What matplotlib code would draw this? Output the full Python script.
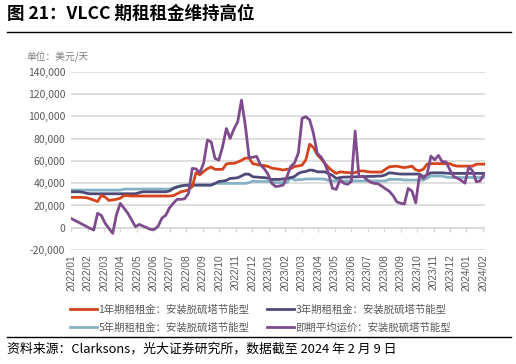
import numpy as np
import matplotlib
matplotlib.use("Agg")
import matplotlib.pyplot as plt
from matplotlib.ticker import FuncFormatter

plt.rcParams['font.family'] = ['Noto Sans CJK SC', 'DejaVu Sans']
plt.rcParams['axes.unicode_minus'] = False

# month labels on the x axis
months = ['2022/01', '2022/02', '2022/03', '2022/04', '2022/05', '2022/06',
          '2022/07', '2022/08', '2022/09', '2022/10', '2022/11', '2022/12',
          '2023/01', '2023/02', '2023/03', '2023/04', '2023/05', '2023/06',
          '2023/07', '2023/08', '2023/09', '2023/10', '2023/11', '2023/12',
          '2024/01', '2024/02']

# weekly values, 2022-01-07 .. 2024-02-09 (USD/day)
tc_1y = [27300, 27300, 27300, 27200, 27000, 26000, 24800, 23500, 29000, 27500,
         24500, 25000, 25600, 26500, 29000, 28800, 28500, 28500, 28500, 28500,
         28500, 28500, 28500, 28500, 28500, 28500, 28500, 28800, 30500, 32300,
         33000, 34000, 37000, 49500, 47500, 50500, 53000, 54500, 52400, 52400,
         52400, 57200, 57800, 57800, 59000, 60500, 62500, 62500, 57500, 56800,
         56200, 55800, 55000, 53500, 53000, 52500, 51800, 52500, 53000, 55000,
         55500, 56200, 61000, 75000, 72000, 65500, 62000, 57800, 54000, 51000,
         48800, 50200, 49800, 49500, 49300, 49500, 51000, 51000, 50500, 50000,
         50000, 50000, 50000, 52500, 54700, 55000, 55300, 54500, 54000, 54500,
         55300, 52000, 51100, 52500, 57100, 57500, 57500, 57500, 57500, 57500,
         57500, 56000, 55300, 55300, 55300, 55300, 55300, 57000, 57100, 57100]

tc_3y = [32300, 32300, 32300, 32000, 31000, 30500, 30500, 30500, 30500, 30500,
         30500, 30500, 30500, 30500, 30500, 30500, 30500, 30500, 31500, 32300,
         32300, 32300, 32300, 32300, 32300, 32300, 33000, 35300, 36500, 37400,
         38000, 38300, 38300, 38300, 38300, 38300, 38300, 38300, 39800, 41500,
         41900, 42500, 44300, 44500, 44900, 46500, 48200, 48000, 45700, 45500,
         45100, 45000, 44500, 43400, 43400, 43400, 43800, 44300, 45000, 46000,
         48800, 50000, 50500, 51800, 51500, 50200, 50200, 50200, 48500, 47000,
         44300, 45000, 45500, 45500, 45600, 45700, 45800, 45900, 46000, 46100,
         46200, 46400, 46400, 47500, 49300, 49000, 48500, 48200, 48200, 48200,
         48200, 48200, 48200, 45700, 47500, 49300, 49300, 49300, 49300, 49000,
         48800, 48800, 48800, 48800, 48800, 48800, 48800, 48800, 48800, 48800]

tc_5y = [33800, 33800, 33800, 33800, 33800, 33800, 33800, 33800, 33800, 33800,
         33800, 33800, 33800, 33800, 34700, 34700, 34700, 34700, 34700, 34700,
         34700, 34700, 34700, 34700, 34700, 34700, 34700, 35500, 37000, 37700,
         38300, 38300, 38300, 38300, 38300, 38300, 38300, 38300, 39800, 39800,
         39800, 39800, 39800, 39800, 39800, 39800, 39800, 40500, 41900, 41500,
         41500, 41500, 41500, 41500, 40500, 40500, 40500, 40500, 45100, 42800,
         43200, 43200, 43800, 43800, 43800, 43800, 43800, 43500, 42500, 42000,
         42000, 42000, 42000, 42000, 42000, 42000, 42000, 42000, 42000, 42000,
         42000, 42000, 42000, 42000, 43400, 43400, 43400, 43400, 42800, 42800,
         42800, 42800, 42800, 42800, 44500, 46400, 46400, 46400, 46400, 45500,
         45100, 45100, 45100, 45100, 45100, 45100, 45100, 45100, 45100, 45100]

spot = [8400, 6600, 4900, 3100, 1300, -500, -2000, 13000, 11000, 4000,
        -600, -5000, 12000, 21900, 17500, 13000, 7000, 900, 3000, 1500,
        0, -1500, -1500, 1500, 8700, 11200, 18000, 22000, 25500, 25500,
        26000, 30800, 53300, 52800, 49300, 58000, 78700, 77000, 62200, 60700,
        72700, 89000, 80200, 88500, 95100, 114500, 92000, 63000, 63300, 64000,
        56500, 53000, 48000, 39800, 37000, 37500, 38300, 46000, 55000, 58200,
        67000, 98200, 99600, 96800, 84500, 66700, 63500, 57800, 48500, 35500,
        34400, 42800, 40000, 39000, 41500, 86700, 45700, 46400, 43500, 41000,
        39800, 39600, 37400, 35000, 32800, 29000, 23300, 22000, 21300, 35300,
        33000, 22400, 47300, 44300, 48000, 64300, 61000, 64900, 59200, 59200,
        52000, 46000, 44500, 42500, 40000, 54700, 51000, 41300, 42000, 48000]

names = ['1年期租租金：安装脱硫塔节能型', '3年期租租金：安装脱硫塔节能型',
         '5年期租租金：安装脱硫塔节能型', '即期平均运价：安装脱硫塔节能型']
colors = ['#D5441C', '#4D4A78', '#86B2C6', '#7E4B8C']

fig = plt.figure(figsize=(5.16, 3.64), dpi=100)
ax = fig.add_axes([0.137, 0.313, 0.803, 0.49])

x = np.arange(len(spot))
series = [tc_1y, tc_3y, tc_5y, spot]
lines = []
for vals, c, n, z in zip(series, colors, names, [4, 3, 2, 5]):
    ln, = ax.plot(x, vals, color=c, lw=2.0, label=n, zorder=z, solid_joinstyle='round')
    lines.append(ln)

ax.set_ylim(-20000, 140000)
ax.set_yticks(np.arange(-20000, 140001, 20000))
ax.yaxis.set_major_formatter(FuncFormatter(lambda v, p: f'{int(v):,}'))
ax.grid(axis='y', color='#D9D9D9', lw=1.2, zorder=0)
ax.set_axisbelow(True)
for s in ax.spines.values():
    s.set_visible(False)
ax.tick_params(axis='y', length=0, labelsize=7.5, labelcolor='#595959', pad=4)

tick_pos = np.arange(len(months)) * 4.35
ax.set_xlim(-0.1, 109.3)
ax.set_xticks(tick_pos)
ax.set_xticklabels(months, rotation=90, fontsize=7.3, color='#595959',
                   family=['Liberation Sans', 'DejaVu Sans'])
ax.tick_params(axis='x', length=0, pad=3)

# axis line with tick marks sits at zero
ax.axhline(0, color='#D9D9D9', lw=1.2, zorder=1)
sec = ax.secondary_xaxis(0.125)
sec.set_xticks(tick_pos)
sec.set_xticklabels([])
sec.tick_params(length=3, color='#D9D9D9', width=1)
sec.spines['bottom'].set_visible(False)

fig.text(0.014, 0.961, '图 21：VLCC 期租租金维持高位', fontsize=12.6, fontweight='bold',
         va='center', ha='left', color='black')
fig.add_artist(plt.Line2D([0.014, 0.99], [0.913, 0.913], color='black', lw=1.0))
fig.text(0.052, 0.842, '单位：美元/天', fontsize=7, color='#7F7F7F', va='center', ha='left')

handles = [lines[0], lines[2], lines[1], lines[3]]
labels = [names[0], names[2], names[1], names[3]]
fig.legend(handles, labels, ncol=2, loc='center', bbox_to_anchor=(0.505, 0.124),
           frameon=False, fontsize=7.5, labelcolor='#595959', handlelength=2.6,
           handletextpad=0.1, columnspacing=1.7, labelspacing=0.75)

fig.add_artist(plt.Line2D([0.014, 0.99], [0.073, 0.073], color='black', lw=1.0))
fig.text(0.014, 0.042, '资料来源：Clarksons，光大证券研究所，数据截至 2024 年 2 月 9 日',
         fontsize=9.3, va='center', ha='left', color='black')

fig.savefig('out.png', dpi=100)
